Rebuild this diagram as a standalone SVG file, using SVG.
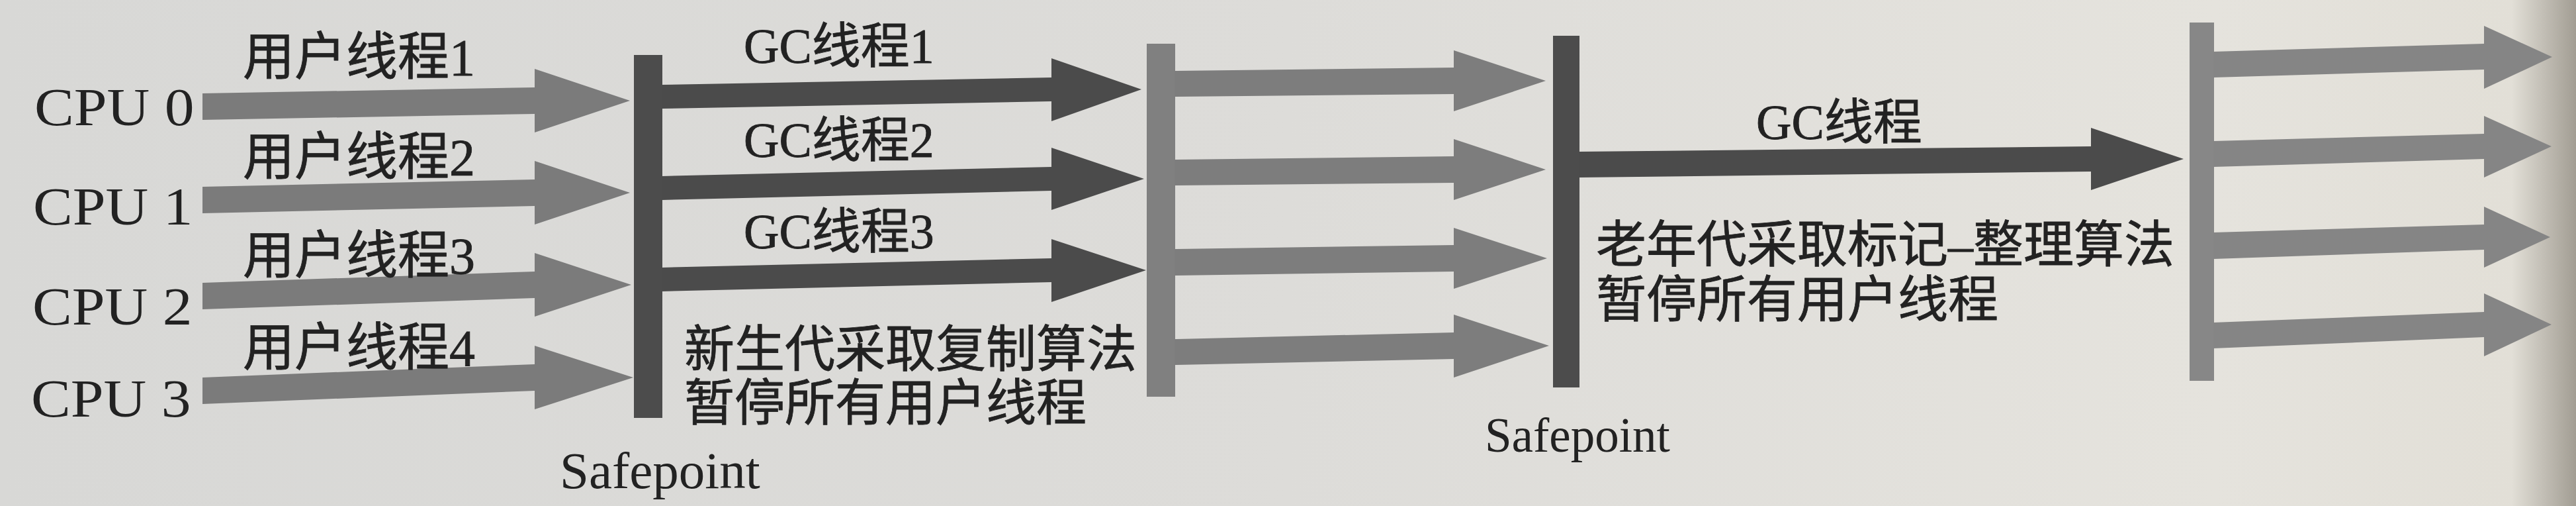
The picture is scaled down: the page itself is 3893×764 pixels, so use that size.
<svg xmlns="http://www.w3.org/2000/svg" width="3893" height="764" viewBox="0 0 3893 764">
  <defs>
    <linearGradient id="bg" x1="0" y1="0" x2="1" y2="0">
      <stop offset="0" stop-color="#d8d8d6"/>
      <stop offset="0.5" stop-color="#dddcd9"/>
      <stop offset="0.86" stop-color="#e5e3dd"/>
      <stop offset="0.975" stop-color="#e2dfd7"/>
      <stop offset="1" stop-color="#a29d93"/>
    </linearGradient>
    <style>
      .lat { font-family: "Liberation Serif", "Noto Sans CJK SC", serif; fill: #222222; }
      .cjk { font-family: "Liberation Serif", "Noto Sans CJK SC", sans-serif; fill: #222222; stroke: #222222; stroke-width: 0.8px; }
      .u { font-size: 78px; }
      .note { font-size: 76px; }
      .cpu { font-size: 80px; }
      .sp1 { font-size: 79px; }
      .sp2 { font-size: 73px; }
      .gc { font-size: 74px; }
      .user { fill: #7b7b7b; }
      .gcd { fill: #4b4b4b; }
      .light { fill: #7d7d7d; }
      .right { fill: #858585; }
      .bardark { fill: #4c4c4c; }
      .barlight { fill: #808080; }
      .barright { fill: #878787; }
    </style>
  </defs>
  <rect width="3893" height="764" fill="url(#bg)"/>

  <g id="cpu0"><text class="lat cpu" transform="translate(52,189) scale(1.12,1)">CPU 0</text></g>
  <g id="cpu1"><text class="lat cpu" transform="translate(50,339) scale(1.12,1)">CPU 1</text></g>
  <g id="cpu2"><text class="lat cpu" transform="translate(49,490) scale(1.12,1)">CPU 2</text></g>
  <g id="cpu3"><text class="lat cpu" transform="translate(47,629) scale(1.12,1)">CPU 3</text></g>

  <g id="safepoint1">
    <rect class="bardark" x="958" y="83" width="43" height="548"/>
    <text class="lat sp1" x="846" y="737">Safepoint</text>
  </g>
  <g id="young-gc-note">
    <text class="cjk note" x="1034" y="554">新生代采取复制算法</text>
    <text class="cjk note" x="1034" y="635">暂停所有用户线程</text>
  </g>
  <g id="resume1">
    <rect class="barlight" x="1733" y="66" width="43" height="533"/>
  </g>
  <g id="safepoint2">
    <rect class="bardark" x="2347" y="54" width="40" height="531"/>
    <text class="lat sp2" x="2244" y="682">Safepoint</text>
  </g>
  <g id="old-gc-note">
    <text class="cjk note" x="2412" y="396">老年代采取标记–整理算法</text>
    <text class="cjk note" x="2412" y="479">暂停所有用户线程</text>
  </g>
  <g id="resume2">
    <rect class="barright" x="3309" y="34" width="37" height="541"/>
  </g>

  <g id="connectors">
    <!-- user threads -->
    <polygon class="user" points="306,141 808,132 808,104 952,152 808,200 808,172 306,181"/>
    <polygon class="user" points="306,282 808,271 808,243 952,291 808,339 808,311 306,322"/>
    <polygon class="user" points="306,427 808,410 808,382 954,430 808,478 808,450 306,467"/>
    <polygon class="user" points="306,570 808,550 808,522 957,570 808,618 808,590 306,610"/>
    <text class="cjk u" x="367" y="113">用户线程1</text>
    <text class="cjk u" x="367" y="264">用户线程2</text>
    <text class="cjk u" x="367" y="413">用户线程3</text>
    <text class="cjk u" x="367" y="552">用户线程4</text>
    <!-- young GC threads -->
    <polygon class="gcd" points="1000,128 1589,117 1589,88 1725,135 1589,183 1589,153 1000,164"/>
    <polygon class="gcd" points="1000,266 1589,252 1589,223 1729,270 1589,317 1589,288 1000,302"/>
    <polygon class="gcd" points="1000,404 1589,390 1589,361 1732,408 1589,456 1589,426 1000,440"/>
    <text class="cjk gc" x="1124" y="95">GC线程1</text>
    <text class="cjk gc" x="1124" y="237">GC线程2</text>
    <text class="cjk gc" x="1124" y="375">GC线程3</text>
    <!-- resumed user threads -->
    <polygon class="light" points="1775,107 2197,102 2197,76 2336,122 2197,168 2197,142 1775,146"/>
    <polygon class="light" points="1775,241 2197,236 2197,210 2336,256 2197,302 2197,276 1775,280"/>
    <polygon class="light" points="1775,376 2197,370 2197,344 2338,390 2197,436 2197,410 1775,416"/>
    <polygon class="light" points="1775,512 2197,502 2197,475 2341,522 2197,570 2197,542 1775,551"/>
    <!-- old GC thread -->
    <polygon class="gcd" points="2386,229 3160,221 3160,193 3300,240 3160,287 3160,259 2386,268"/>
    <text class="cjk gc" x="2654" y="210">GC线程</text>
    <!-- resumed user threads -->
    <polygon class="right" points="3345,78 3754,66 3754,39 3857,86 3754,134 3754,105 3345,117"/>
    <polygon class="right" points="3345,213 3754,202 3754,175 3856,221 3754,268 3754,240 3345,252"/>
    <polygon class="right" points="3345,351 3754,339 3754,312 3854,358 3754,404 3754,377 3345,391"/>
    <polygon class="right" points="3345,487 3754,471 3754,443 3856,490 3754,538 3754,509 3345,526"/>
  </g>
</svg>
